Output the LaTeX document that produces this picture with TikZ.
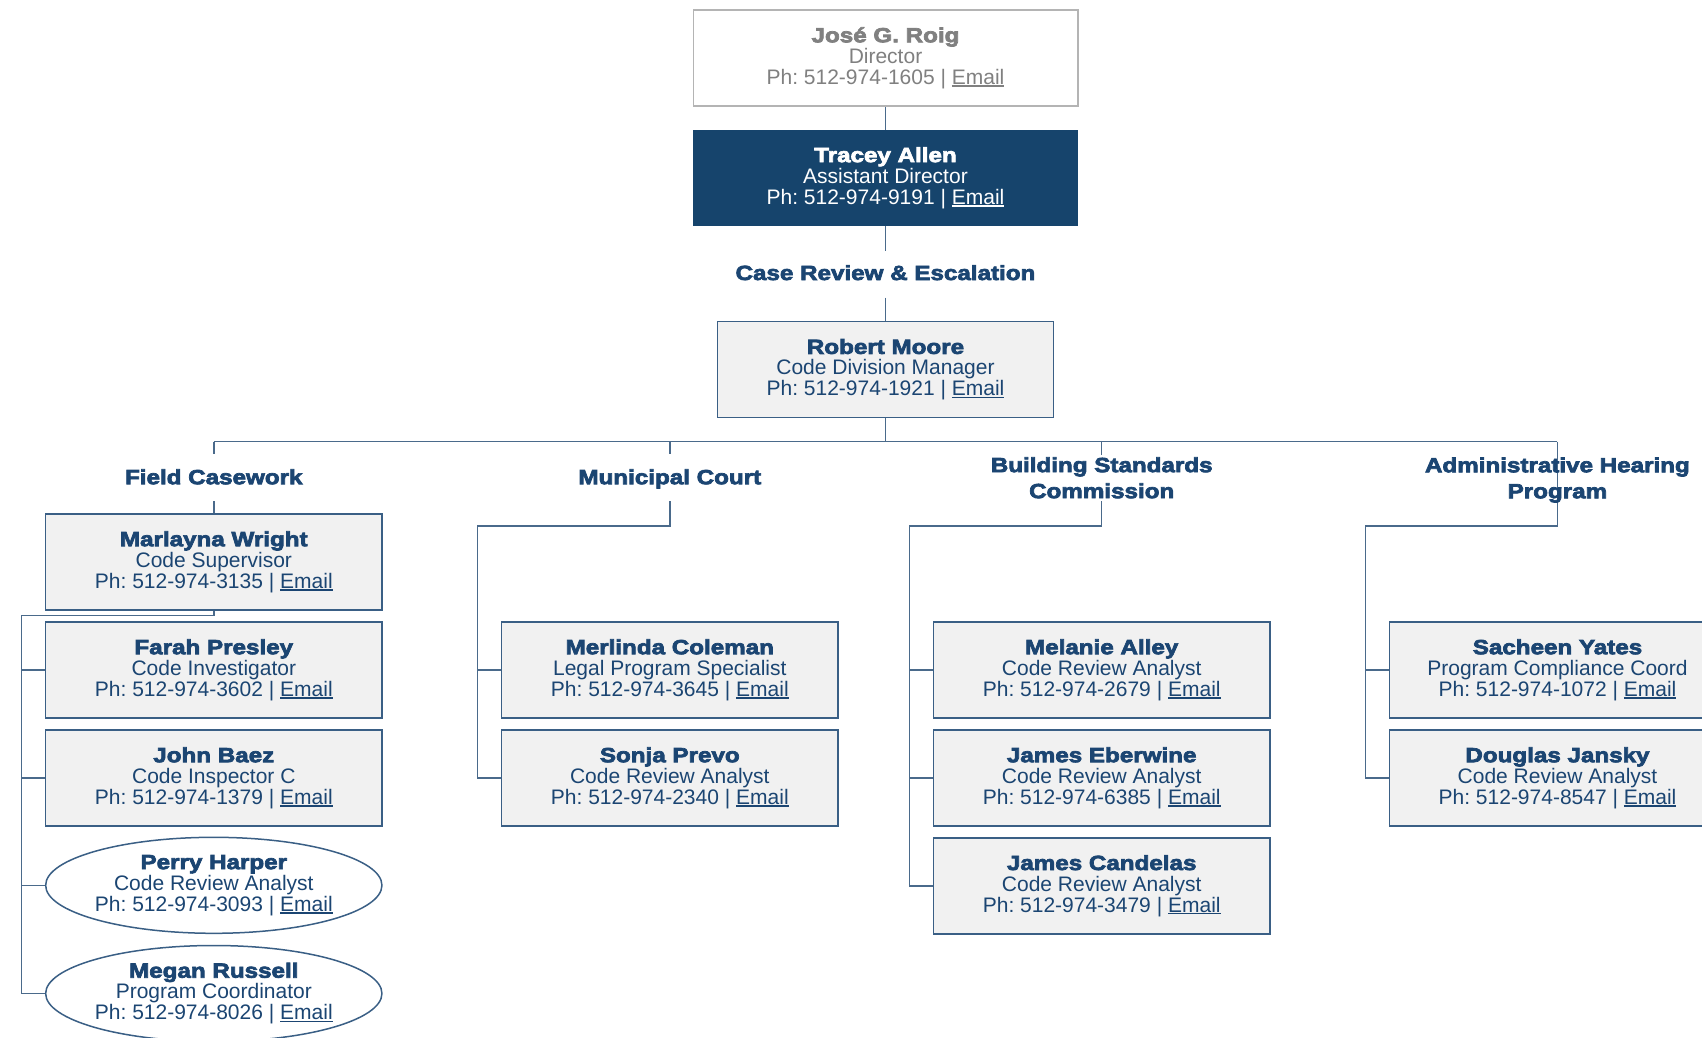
\documentclass[tikz,border=0pt]{standalone}
\usepackage{fontspec}
\setmainfont{Liberation Sans}
\newfontfamily\nmfont{Liberation Sans Bold}[FakeStretch=1.18,FakeBold=3.5]
\usetikzlibrary{shapes.geometric,backgrounds}
\frenchspacing
\definecolor{navy}{HTML}{1B4572}
\definecolor{boxline}{HTML}{3A5F85}
\definecolor{connc}{HTML}{4A6A8B}
\definecolor{boxfill}{HTML}{F1F1F1}
\definecolor{darkbox}{HTML}{16446C}
\definecolor{jgray}{HTML}{808080}
\definecolor{jline}{HTML}{B4B4B4}
\newcommand\eml{\setbox0\hbox{Email}\rlap{\rule[-2.4pt]{\wd0}{1.2pt}}\box0}
\newcommand\pinfo[3]{{\nmfont\fontsize{20.5}{21}\selectfont #1}\\#2\\Ph: #3 | \eml}
\begin{document}
\begin{tikzpicture}[x=1pt,y=-1pt,
  box/.style={rectangle,draw=boxline,line width=1.5pt,fill=boxfill,
    minimum width=336.3pt,minimum height=96pt,inner sep=0pt,align=center,
    text=navy,font=\fontsize{21}{21}\selectfont},
  ell/.style={box,ellipse,fill=white,inner xsep=-6pt,inner ysep=0pt},
  lbl/.style={align=center,text=navy,font=\nmfont\fontsize{20.5}{26}\selectfont,inner sep=0pt},
  conn/.style={draw=connc,line width=1.5pt}]
\useasboundingbox (0,0) rectangle (1702,1038);

% top chain
\node[box,draw=jline,fill=white,text=jgray,minimum width=384.5pt] (jose) at (885.5,58)
  {\pinfo{José G. Roig}{Director}{512-974-1605}};
\node[box,fill=darkbox,draw=darkbox,text=white,minimum width=383pt,minimum height=94.3pt] (tracey) at (885.5,177.9)
  {\pinfo{Tracey Allen}{Assistant Director}{512-974-9191}};
\node[lbl,anchor=base] (crl) at (885.5,280) {Case Review \& Escalation};
\node[box] (moore) at (885.5,369.7) {\pinfo{Robert Moore}{Code Division Manager}{512-974-1921}};

% section labels
\node[lbl,anchor=base] (fcl) at (213.8,484.2) {Field Casework};
\node[lbl,anchor=base] (mcl) at (669.8,484.2) {Municipal Court};
\node[lbl] (bsl) at (1101.7,477.8) {Building Standards\\Commission};
\node[lbl] (ahl) at (1557.4,480) {Administrative Hearing\\Program};

% Field Casework
\node[box] (marl) at (213.8,562) {\pinfo{Marlayna Wright}{Code Supervisor}{512-974-3135}};
\node[box] (farah) at (213.8,670) {\pinfo{Farah Presley}{Code Investigator}{512-974-3602}};
\node[box] (baez) at (213.8,778) {\pinfo{John Baez}{Code Inspector C}{512-974-1379}};
\node[ell] (perry) at (213.8,885.3) {\pinfo{Perry Harper}{Code Review Analyst}{512-974-3093}};
\node[ell] (megan) at (213.8,993.5) {\pinfo{Megan Russell}{Program Coordinator}{512-974-8026}};

% Municipal Court
\node[box] (merl) at (669.8,670) {\pinfo{Merlinda Coleman}{Legal Program Specialist}{512-974-3645}};
\node[box] (sonja) at (669.8,778) {\pinfo{Sonja Prevo}{Code Review Analyst}{512-974-2340}};

% Building Standards Commission
\node[box] (alley) at (1101.7,670) {\pinfo{Melanie Alley}{Code Review Analyst}{512-974-2679}};
\node[box] (eber) at (1101.7,778) {\pinfo{James Eberwine}{Code Review Analyst}{512-974-6385}};
\node[box] (cand) at (1101.7,885.8) {\pinfo{James Candelas}{Code Review Analyst}{512-974-3479}};

% Administrative Hearing Program
\node[box] (yates) at (1557.5,670) {\pinfo{Sacheen Yates}{Program Compliance Coord}{512-974-1072}};
\node[box] (jansky) at (1557.5,778) {\pinfo{Douglas Jansky}{Code Review Analyst}{512-974-8547}};

% connector coordinates
\coordinate (crT) at (885.5,250.5);
\coordinate (crB) at (885.5,297.5);
\coordinate (busC) at (885.5,441.7);
\coordinate (b1) at (213.8,441.7);
\coordinate (b2) at (669.8,441.7);
\coordinate (b3) at (1101.7,441.7);
\coordinate (b4) at (1557.4,441.7);
\coordinate (fcT) at (213.8,454.3);
\coordinate (fcB) at (213.8,501);
\coordinate (fcBend) at (213.8,615.3);
\coordinate (fcSp) at (21.7,615.3);
\coordinate (mcT) at (669.8,454.3);
\coordinate (mcB) at (669.8,501);
\coordinate (mcH) at (669.8,526);
\coordinate (mcSp) at (477.6,526);
\coordinate (bsT) at (1101.7,455);
\coordinate (bsB) at (1101.7,501);
\coordinate (bsH) at (1101.7,526);
\coordinate (bsSp) at (909.4,526);
\coordinate (ahH) at (1557.4,526);
\coordinate (ahSp) at (1365.7,526);

\begin{scope}[on background layer]
\draw[conn] (jose) -- (tracey);
\draw[conn] (tracey.south) -- (crT);
\draw[conn] (crB) -- (moore.north);
\draw[conn] (moore.south) -- (busC);
\draw[conn] (b1) -- (b4);
% field
\draw[conn] (b1) -- (fcT);
\draw[conn] (fcB) -- (marl.north);
\draw[conn] (marl.south) -- (fcBend) -- (fcSp) |- (megan.west);
\draw[conn] (fcSp |- farah.west) -- (farah.west);
\draw[conn] (fcSp |- baez.west) -- (baez.west);
\draw[conn] (fcSp |- perry.west) -- (perry.west);
% municipal
\draw[conn] (b2) -- (mcT);
\draw[conn] (mcB) -- (mcH) -- (mcSp) |- (sonja.west);
\draw[conn] (mcSp |- merl.west) -- (merl.west);
% building
\draw[conn] (b3) -- (bsT);
\draw[conn] (bsB) -- (bsH) -- (bsSp) |- (cand.west);
\draw[conn] (bsSp |- alley.west) -- (alley.west);
\draw[conn] (bsSp |- eber.west) -- (eber.west);
% admin
\draw[conn] (b4) -- (ahH) -- (ahSp) |- (jansky.west);
\draw[conn] (ahSp |- yates.west) -- (yates.west);
\end{scope}
\end{tikzpicture}
\end{document}
